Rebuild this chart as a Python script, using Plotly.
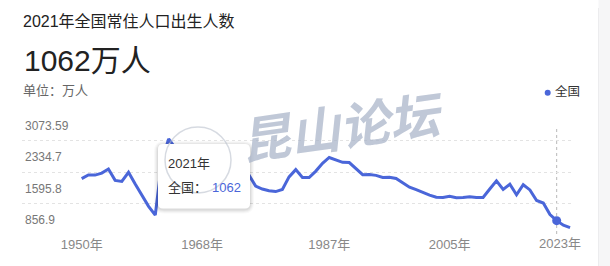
import plotly.graph_objects as go

# ---------------- data ----------------
YEARS = list(range(1950, 2024))
BIRTHS = [2023, 2107, 2105, 2151, 2245, 1984, 1961, 2169, 1899, 1647,
          1389, 1187, 2451, 2934, 2721, 2704, 2577, 2563, 2757, 2715,
          2736, 2578, 2566, 2463, 2235, 2109, 1853, 1786, 1745, 1727,
          1776, 2064, 2230, 2052, 2050, 2196, 2374, 2508, 2445, 2396,
          2391, 2250, 2113, 2120, 2098, 2052, 2057, 2028, 1934, 1827,
          1771, 1702, 1647, 1599, 1593, 1617, 1585, 1594, 1608, 1591,
          1592, 1785, 1973, 1776, 1897, 1655, 1883, 1765, 1523, 1465,
          1202, 1062, 956, 902]
SERIES_NAME = "全国"
Y_TICKS = [856.9, 1595.8, 2334.7, 3073.59]
Y_TICK_LABELS = ["856.9", "1595.8", "2334.7", "3073.59"]
X_TICKS = [1950, 1968, 1987, 2005, 2023]
X_TICK_LABELS = [f"{y}年" for y in X_TICKS]
HIGHLIGHT_YEAR = 2021
TITLE = "2021年全国常住人口出生人数"
BIG_VALUE = "1062万人"
UNIT = "单位：万人"

BLUE = "#4a66d9"
FONT = "Arial, 'Liberation Sans', 'Noto Sans CJK SC', sans-serif"

W, H = 610, 266
L, R, T, B = 22, 37, 110, 31
PW, PH = W - L - R, H - T - B

# value axis; the grid/label scale of the source chart is a slightly
# different linear scale, mapped onto the value axis here
Y_RANGE = [733.0, 3595.0]
GRID_BASE, GRID_SCALE = 734.8, 0.97037
grid_vals = [GRID_BASE + (t - Y_TICKS[0]) * GRID_SCALE for t in Y_TICKS]


def px(x):
    return (x - L) / PW


def py(y):
    return (H - B - y) / PH


hi = YEARS.index(HIGHLIGHT_YEAR)

fig = go.Figure()
fig.add_trace(go.Scatter(x=YEARS, y=BIRTHS, mode="lines", name=SERIES_NAME,
                         line=dict(color=BLUE, width=3), hoverinfo="skip",
                         showlegend=False))
fig.add_trace(go.Scatter(x=[YEARS[hi]], y=[BIRTHS[hi]], mode="markers",
                         marker=dict(color=BLUE, size=9), hoverinfo="skip",
                         showlegend=False))

shapes = []
# card edge on the right
shapes.append(dict(type="rect", xref="paper", yref="paper", x0=px(598.5), x1=px(612),
                   y0=py(-2), y1=py(268), fillcolor="#f6f6f7", line=dict(width=0), layer="below"))
shapes.append(dict(type="line", xref="paper", yref="paper", x0=px(598.5), x1=px(598.5),
                   y0=py(8), y1=py(268), line=dict(color="#ececee", width=1), layer="below"))
# hover guide line
shapes.append(dict(type="line", xref="x", yref="paper", x0=HIGHLIGHT_YEAR, x1=HIGHLIGHT_YEAR,
                   y0=py(129), y1=py(235), line=dict(color="#b8b8b8", width=1, dash="dot"),
                   layer="below"))


def rrect(x0, y0, x1, y1, r):
    X0, X1 = px(x0), px(x1)
    Y0, Y1 = py(y0), py(y1)
    rx, ry = r / PW, r / PH
    return (f"M {X0+rx},{Y0} L {X1-rx},{Y0} Q {X1},{Y0} {X1},{Y0-ry} "
            f"L {X1},{Y1+ry} Q {X1},{Y1} {X1-rx},{Y1} L {X0+rx},{Y1} "
            f"Q {X0},{Y1} {X0},{Y1+ry} L {X0},{Y0-ry} Q {X0},{Y0} {X0+rx},{Y0} Z")


# tooltip shadow + box
for g, a in [(4, 0.025), (3, 0.03), (2, 0.04), (1, 0.05)]:
    shapes.append(dict(type="path", xref="paper", yref="paper",
                       path=rrect(158 - g, 144 - g + 1, 250 + g, 208.5 + g + 1, 6 + g),
                       fillcolor=f"rgba(0,0,0,{a})", line=dict(width=0), layer="above"))
shapes.append(dict(type="path", xref="paper", yref="paper", path=rrect(158, 144, 250, 208.5, 5),
                   fillcolor="white", line=dict(width=0), layer="above"))
# legend dot
shapes.append(dict(type="circle", xref="paper", yref="paper",
                   x0=px(544.7), x1=px(550.7), y0=py(89.7), y1=py(95.7),
                   fillcolor=BLUE, line=dict(width=0)))
# watermark logo circle
shapes.append(dict(type="circle", xref="paper", yref="paper",
                   x0=px(165), x1=px(231), y0=py(127), y1=py(193),
                   fillcolor="rgba(0,0,0,0)", line=dict(color="rgba(180,188,200,0.55)", width=1.5),
                   layer="above"))

ann = []


def text(x, y, s, size, color, anchor="left", **kw):
    ann.append(dict(xref="paper", yref="paper", x=px(x), y=py(y), text=s, showarrow=False,
                    xanchor=anchor, yanchor="middle",
                    font=dict(size=size, color=color, family=FONT), **kw))


text(21, 21, TITLE, 16, "#222222")
text(22, 60, BIG_VALUE, 30, "#222222")
text(21, 90, UNIT, 13, "#666666")
text(553, 91.5, SERIES_NAME, 12.5, "#333333")
# last x label sits pulled inward in the source
text(560, 243.5, X_TICK_LABELS[-1], 13, "#888888", anchor="center")
# tooltip
text(166, 163, f"{YEARS[hi]}年", 13, "#333333")
text(166, 187, f"{SERIES_NAME}：", 13, "#333333")
text(210, 187, f"{BIRTHS[hi]}", 13, BLUE)
# watermark
ann.append(dict(xref="paper", yref="paper", x=px(342), y=py(124), text="<b><i>昆山论坛</i></b>",
                showarrow=False, xanchor="center", yanchor="middle", textangle=-8,
                font=dict(size=50, color="rgba(165,177,198,0.7)",
                          family="'Noto Sans CJK SC', sans-serif")))

fig.update_layout(
    width=W, height=H,
    margin=dict(l=L, r=R, t=T, b=B, pad=0),
    paper_bgcolor="white", plot_bgcolor="rgba(0,0,0,0)",
    showlegend=False,
    shapes=shapes, annotations=ann,
    hovermode=False,
    xaxis=dict(range=[1941.08, 2023.44], tickmode="array", tickvals=X_TICKS[:-1],
               ticktext=X_TICK_LABELS[:-1], showgrid=False, zeroline=False, showline=False,
               ticks="", automargin=False,
               tickfont=dict(size=13, color="#888888", family=FONT)),
    yaxis=dict(range=Y_RANGE, tickmode="array", tickvals=grid_vals, ticktext=Y_TICK_LABELS,
               showgrid=True, gridcolor="#e3e3e3", griddash="dot", gridwidth=1,
               zeroline=False, showline=False, ticks="", automargin=False,
               ticklabelposition="inside", ticklabelshift=-15,
               tickfont=dict(size=12, color="#777777", family=FONT)),
)

fig.write_html("out.html")
